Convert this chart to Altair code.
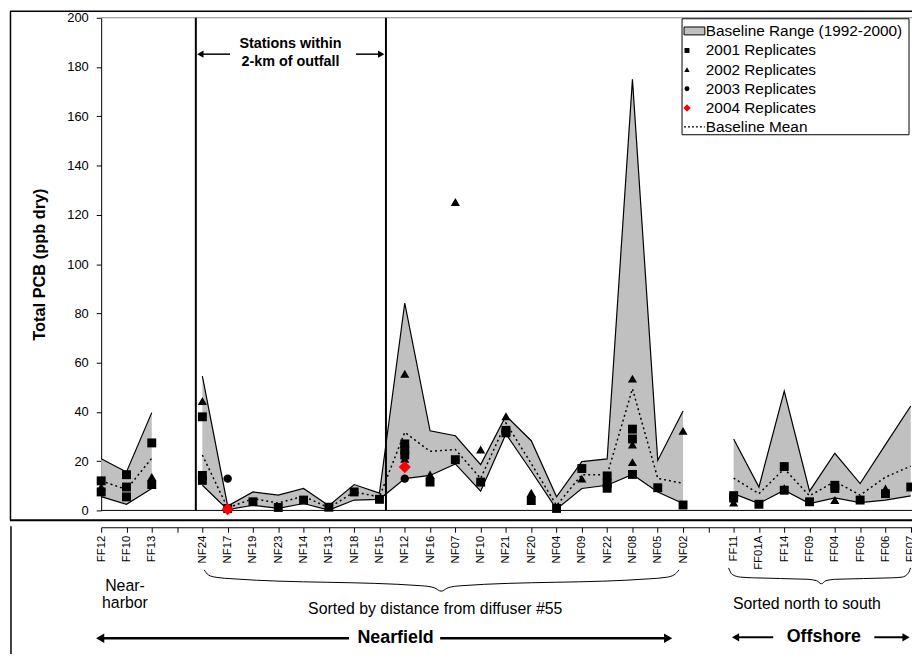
import altair as alt
import pandas as pd

# ---------------- data ----------------
stations = ["FF12", "FF10", "FF13", "", "NF24", "NF17", "NF19", "NF23", "NF14", "NF13",
            "NF18", "NF15", "NF12", "NF16", "NF07", "NF10", "NF21", "NF20", "NF04", "NF09",
            "NF22", "NF08", "NF05", "NF02", "", "FF11", "FF01A", "FF14", "FF09", "FF04",
            "FF05", "FF06", "FF07"]
baseline_max = [21, 15.6, 39.7, None, 54.5, 1.8, 7.5, 6.2, 8.9, 1.9,
                10.5, 7.0, 84.2, 32.3, 30.3, 18.6, 38.4, 28.3, 5.5, 19.8,
                20.9, 175, 20.3, 40.4, None, 29, 9.5, 48.4, 7.8, 23.2,
                10.9, 26.7, 42.4]
baseline_min = [5.6, 2.5, 8.9, None, 10.2, 0.3, 2.1, 0.8, 2.8, 0.1,
                4.2, 4.5, 12.9, 14.2, 18.9, 7.8, 31.0, 16.0, 0.5, 8.9,
                10.2, 14.6, 7.5, 2.8, None, 6.8, 2.8, 8.2, 2.8, 5.1,
                3.2, 4.2, 5.9]
baseline_mean = [12, 8.5, 21.2, None, 22.5, 1.0, 4.8, 3.0, 5.8, 1.0,
                 7.5, 5.5, 31.7, 24.0, 24.7, 13.0, 35.5, 19.0, 2.0, 14.5,
                 14.5, 49.4, 13.0, 11.0, None, 13.1, 6.8, 16.9, 5.9, 11.8,
                 6.2, 13.5, 18.0]

rep2001_station = ["FF12", "FF12", "FF10", "FF10", "FF10", "FF13", "FF13", "NF24", "NF24", "NF24",
                   "NF17", "NF19", "NF23", "NF14", "NF13", "NF18", "NF15", "NF12", "NF12", "NF12",
                   "NF16", "NF07", "NF10", "NF21", "NF21", "NF20", "NF04", "NF09", "NF22", "NF22",
                   "NF22", "NF08", "NF08", "NF08", "NF05", "NF02", "FF11", "FF11", "FF01A", "FF14",
                   "FF14", "FF09", "FF04", "FF04", "FF05", "FF06", "FF07"]
rep2001_value = [12, 7.5, 14.5, 9.5, 5.5, 27.4, 10.5, 38, 14.2, 12.2,
                 0.8, 3.5, 1.2, 4.2, 1.3, 7.5, 4.5, 27, 24.5, 22.5,
                 11.5, 20.6, 11.5, 32.5, 31.5, 4, 0.8, 17, 14, 11,
                 9, 33, 29, 14.6, 9.2, 2.2, 6, 5, 2.5, 17.8,
                 8.2, 3.5, 10.2, 8.9, 4.2, 6.8, 9.5]
rep2002_station = ["FF12", "FF13", "NF24", "NF12", "NF12", "NF16", "NF07", "NF10", "NF21", "NF20",
                   "NF09", "NF08", "NF08", "NF08", "NF02", "FF11", "FF14", "FF04", "FF06"]
rep2002_value = [9.5, 13.6, 44.4, 55.5, 21, 14.6, 125.2, 24.7, 38.2, 7.2,
                 12.9, 53.5, 26.7, 19.6, 32.3, 3.2, 9, 4.2, 8.9]
rep2003_station = ["NF17", "NF12"]
rep2003_value = [12.9, 12.9]
rep2004_station = ["NF17", "NF12"]
rep2004_value = [0.5, 17.6]

legend_labels = ["Baseline Range (1992-2000)", "2001 Replicates", "2002 Replicates",
                 "2003 Replicates", "2004 Replicates", "Baseline Mean"]

# ---------------- layout ----------------
W, H = 818, 497
X_MAX = 32.05
Y_MAX = 200
FONT = "Liberation Sans"
X0, Y0 = 102, 15          # page position of plot origin
PXU = W / X_MAX
PYU = H / Y_MAX

gaps = [i for i, s in enumerate(stations) if s == ""]
pos_of = {s: i for i, s in enumerate(stations) if s}

rows = []
for i, s in enumerate(stations):
    if s:
        rows.append({"pos": i, "station": s, "hi": baseline_max[i], "lo": baseline_min[i],
                     "mean": baseline_mean[i], "seg": sum(g < i for g in gaps)})
band = pd.DataFrame(rows)


def reps(st, vals):
    return pd.DataFrame({"pos": [pos_of[s] for s in st], "station": st, "value": vals})


xscale = alt.Scale(domain=[0, X_MAX], nice=False, zero=False)
yscale = alt.Scale(domain=[0, Y_MAX], nice=False)

label_expr = "[" + ",".join("'%s'" % s for s in stations) + "][datum.value]"

x_axis = alt.Axis(values=list(range(len(stations))), labelExpr=label_expr, labelAngle=270,
                  labelAlign="right", labelBaseline="middle", labelFontSize=11.5, labelFont=FONT,
                  labelColor="black", labelPadding=3, labelOverlap=False, labelFlush=False,
                  offset=17, tickSize=5, tickColor="black", domainColor="black", grid=False,
                  title="")
y_axis = alt.Axis(values=list(range(0, 201, 20)), title="Total PCB (ppb dry)",
                  titleFontSize=16.5, titleFontWeight="bold", titleFont=FONT, titleColor="black",
                  titleX=-62, titleY=H / 2, titleAngle=270, titleAlign="center",
                  titleBaseline="middle", labelFontSize=13, labelFont=FONT, labelColor="black",
                  labelPadding=8, labelFlush=False, tickSize=5, tickColor="black",
                  domainColor="black", grid=False)

XA = alt.X("pos:Q", scale=xscale, axis=x_axis)


def YA(field):
    return alt.Y(field + ":Q", scale=yscale, axis=y_axis)


area = alt.Chart(band).mark_area(color="#C0C0C0", opacity=1).encode(
    x=XA, y=YA("hi"), y2="lo:Q", detail="seg:N")


def bline(field, **kw):
    return alt.Chart(band).mark_line(color="black", **kw).encode(
        x=XA, y=YA(field), detail="seg:N")


hi_line = bline("hi", strokeWidth=1.2)
lo_line = bline("lo", strokeWidth=1.2)
mean_line = bline("mean", strokeWidth=1.5, strokeDash=[2, 3])


def rep_layer(st, vals, shape, size, color="black"):
    return alt.Chart(reps(st, vals)).mark_point(
        shape=shape, filled=True, size=size, color=color, opacity=1, strokeWidth=0).encode(
        x=XA, y=YA("value"))


r01 = rep_layer(rep2001_station, rep2001_value, "square", 81)
r02 = rep_layer(rep2002_station, rep2002_value, "triangle-up", 85)
r03 = rep_layer(rep2003_station, rep2003_value, "circle", 72)
r04 = rep_layer(rep2004_station, rep2004_value, "diamond", 150, "#FF0000")

# ---------------- annotation helpers (page coordinates) ----------------
dummy = pd.DataFrame({"d": [0]})


def vrule(x, y1, y2, w=1.0, color="black", dash=None):
    kw = dict(color=color, strokeWidth=w)
    if dash:
        kw["strokeDash"] = dash
    return alt.Chart(dummy).mark_rule(**kw).encode(
        x=alt.value(x - X0), y=alt.value(y1 - Y0), y2=alt.value(y2 - Y0))


def hrule(x1, x2, y, w=1.0, color="black", dash=None):
    kw = dict(color=color, strokeWidth=w)
    if dash:
        kw["strokeDash"] = dash
    return alt.Chart(dummy).mark_rule(**kw).encode(
        x=alt.value(x1 - X0), x2=alt.value(x2 - X0), y=alt.value(y - Y0))


def label(txt, x, y, size, bold=False, align="center"):
    return alt.Chart(dummy).mark_text(
        text=txt, font=FONT, fontSize=size, fontWeight="bold" if bold else "normal",
        align=align, baseline="middle", color="black").encode(
        x=alt.value(x - X0), y=alt.value(y - Y0))


def symbol(shape, x, y, size, color="black"):
    return alt.Chart(dummy).mark_point(
        shape=shape, filled=True, size=size, color=color, opacity=1, strokeWidth=0).encode(
        x=alt.value(x - X0), y=alt.value(y - Y0))


def box(x1, y1, x2, y2, fill, stroke="black", w=1.0):
    return alt.Chart(dummy).mark_rect(fill=fill, stroke=stroke, strokeWidth=w).encode(
        x=alt.value(x1 - X0), x2=alt.value(x2 - X0), y=alt.value(y1 - Y0), y2=alt.value(y2 - Y0))


def curve(points):
    df = pd.DataFrame({
        "pos": [(px - X0) / PXU for px, py in points],
        "val": [(Y0 + H - py) / PYU for px, py in points],
        "k": list(range(len(points))),
    })
    return alt.Chart(df).mark_line(color="black", strokeWidth=1, interpolate="monotone").encode(
        x=XA, y=YA("val"), order="k:Q")


frame = [
    hrule(10, 920, 8.5, w=1.5),
    vrule(10.5, 8.5, 522, w=1.5),
    hrule(10, 920, 522, w=2),
    vrule(11, 528, 660, w=1.5),
    hrule(102, 920, 15, color="#888888"),
    hrule(102, 920, 512, w=1),
]

outfall = [
    vrule(197.5, 15, 512, w=2),
    vrule(389.3, 15, 512, w=2),
    hrule(202, 232, 51.7, w=1.5),
    symbol("triangle-left", 202, 51.7, 55),
    hrule(359, 385, 51.7, w=1.5),
    symbol("triangle-right", 384.5, 51.7, 55),
    label("Stations within", 293, 41.7, 14.5, bold=True),
    label("2-km of outfall", 293, 59.5, 14.5, bold=True),
]

leg_rows = [28.3, 48, 67.3, 86.7, 106, 125]
legend = [
    box(688, 16, 917, 133, "white"),
    box(690, leg_rows[0] - 4, 711, leg_rows[0] + 4, "#C0C0C0"),
    symbol("square", 693, leg_rows[1], 25),
    symbol("triangle-up", 693, leg_rows[2], 30),
    symbol("circle", 693, leg_rows[3], 25),
    symbol("diamond", 693, leg_rows[4], 55, "#FF0000"),
    hrule(690, 711, leg_rows[5], w=1.2, dash=[2, 2]),
]
for t, yy in zip(legend_labels, leg_rows):
    legend.append(label(t, 712, yy, 15.5, align="left"))

bottom = [
    label("Near-", 126, 588, 16),
    label("harbor", 126, 605, 16),
    label("Sorted by distance from diffuser #55", 439, 611, 16),
    label("Sorted north to south", 814, 606, 16),
    label("Nearfield", 399, 641, 18, bold=True),
    hrule(101, 352, 641, w=2.5),
    symbol("triangle-left", 101, 641, 90),
    hrule(444, 674, 641, w=2.5),
    symbol("triangle-right", 674, 641, 90),
    label("Offshore", 831, 640, 18, bold=True),
    hrule(742, 780, 640, w=2),
    symbol("triangle-left", 742, 640, 70),
    hrule(882, 914, 640, w=2),
    symbol("triangle-right", 914, 640, 70),
    curve([(206, 572), (210, 577), (218, 579.5), (235, 581), (425, 588), (438, 590),
           (445, 593.5), (452, 590), (465, 588), (655, 581), (672, 579.5), (680, 577),
           (685, 572)]),
    curve([(735, 570), (738.5, 576.5), (747, 579.3), (760, 580), (815, 581.5), (824, 583),
           (828.5, 586), (833, 583), (842, 581.5), (900, 580), (910, 579.3), (916.5, 575),
           (918.5, 570)]),
]

chart = alt.layer(
    area, *frame, hi_line, lo_line, mean_line, *outfall, r01, r02, r03, r04, *legend, *bottom
).properties(
    width=W, height=H,
    padding={"left": 94, "top": 7, "right": 0, "bottom": 142},
    autosize=alt.AutoSizeParams(type="none"),
).configure_view(stroke=None)

chart.save("out.html", embed_options={"renderer": "svg", "actions": False})
